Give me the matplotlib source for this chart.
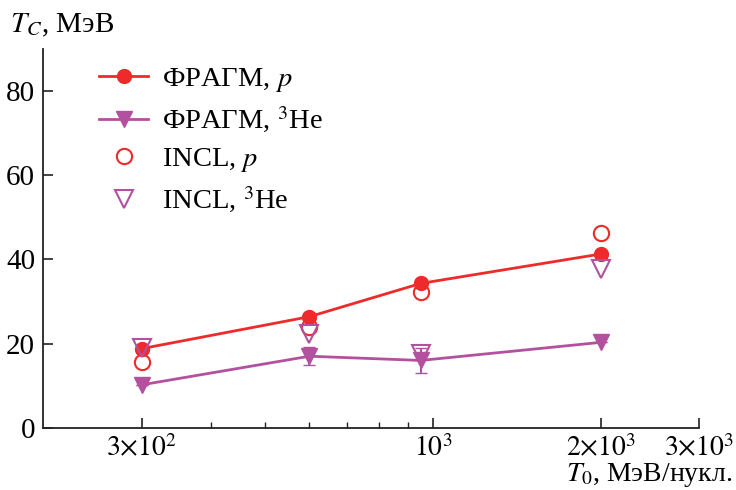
import matplotlib
matplotlib.use("Agg")
import matplotlib.pyplot as plt
from matplotlib.ticker import FixedLocator, NullFormatter
from matplotlib.lines import Line2D

plt.rcParams['font.family'] = ['Liberation Serif', 'DejaVu Serif']
plt.rcParams['mathtext.fontset'] = 'stix'

# Data
energy = [300, 600, 950, 2000]
fragm_p = [18.8, 26.4, 34.3, 41.3]
fragm_he3 = [10.2, 17.0, 16.0, 20.3]
fragm_he3_err = [0.0, 2.2, 3.0, 0.0]
incl_p = [15.7, 24.0, 32.2, 46.2]
incl_he3 = [19.0, 22.3, 17.6, 37.8]

xticks = [300, 1000, 2000, 3000]
xticklabels = [r'$3{\times}10^2$', r'$10^3$', r'$2{\times}10^3$', r'$3{\times}10^3$']
xminor = [400, 500, 600, 700, 800, 900]
yticks = [0, 20, 40, 60, 80]

red = '#ee2a2a'
purple = '#b3519f'

fig = plt.figure(figsize=(7.36, 4.9), dpi=100)
ax = fig.add_axes([0.059, 0.127, 0.891, 0.773])

ax.plot(energy, fragm_p, color=red, lw=2.0, marker='o', ms=10, zorder=3)
ax.errorbar(energy, fragm_he3, yerr=fragm_he3_err, color=purple, lw=2.0,
            marker='v', ms=11, capsize=4, elinewidth=1.5, zorder=3)
ax.plot(energy, incl_p, ls='none', marker='o', ms=11, mfc='none', mec=red,
        mew=1.5, zorder=4)
ax.plot(energy, incl_he3, ls='none', marker='v', ms=13, mfc='none', mec=purple,
        mew=1.5, zorder=4)

handles = [
    Line2D([], [], color=red, lw=2.0, marker='o', ms=10),
    Line2D([], [], color=purple, lw=2.0, marker='v', ms=11),
    Line2D([], [], ls='none', marker='o', ms=11, mfc='none', mec=red, mew=1.5),
    Line2D([], [], ls='none', marker='v', ms=13, mfc='none', mec=purple, mew=1.5),
]
labels = ['ФРАГМ, $p$', 'ФРАГМ, $^3$He', 'INCL, $p$', 'INCL, $^3$He']

ax.set_xscale('log')
ax.set_xlim(200, 3000)
ax.set_ylim(0, 90)
ax.xaxis.set_major_locator(FixedLocator(xticks))
ax.set_xticklabels(xticklabels)
ax.xaxis.set_minor_locator(FixedLocator(xminor))
ax.xaxis.set_minor_formatter(NullFormatter())
ax.set_yticks(yticks)

for s in ['top', 'right']:
    ax.spines[s].set_visible(False)
for s in ['left', 'bottom']:
    ax.spines[s].set_linewidth(1.3)
    ax.spines[s].set_color('#222222')

ax.tick_params(axis='both', which='major', direction='in', length=7, width=1.2,
               labelsize=21, color='#222222')
ax.tick_params(axis='x', which='major', pad=5, labelsize=20)
ax.tick_params(axis='x', which='minor', direction='in', length=4.5, width=1.0,
               color='#222222')
ax.tick_params(axis='y', which='major', pad=6)

fig.text(0.014, 0.933, r'$T_C$, МэВ', fontsize=21, ha='left', va='baseline')
fig.text(0.995, 0.018, r'$T_0$, МэВ/нукл.', fontsize=20, ha='right', va='baseline')

leg = ax.legend(handles, labels, loc='upper left', bbox_to_anchor=(0.068, 0.985),
                frameon=False, fontsize=20.5, handlelength=1.7, handletextpad=0.5,
                labelspacing=0.38, borderaxespad=0.0)

fig.savefig('out.png', dpi=100)
